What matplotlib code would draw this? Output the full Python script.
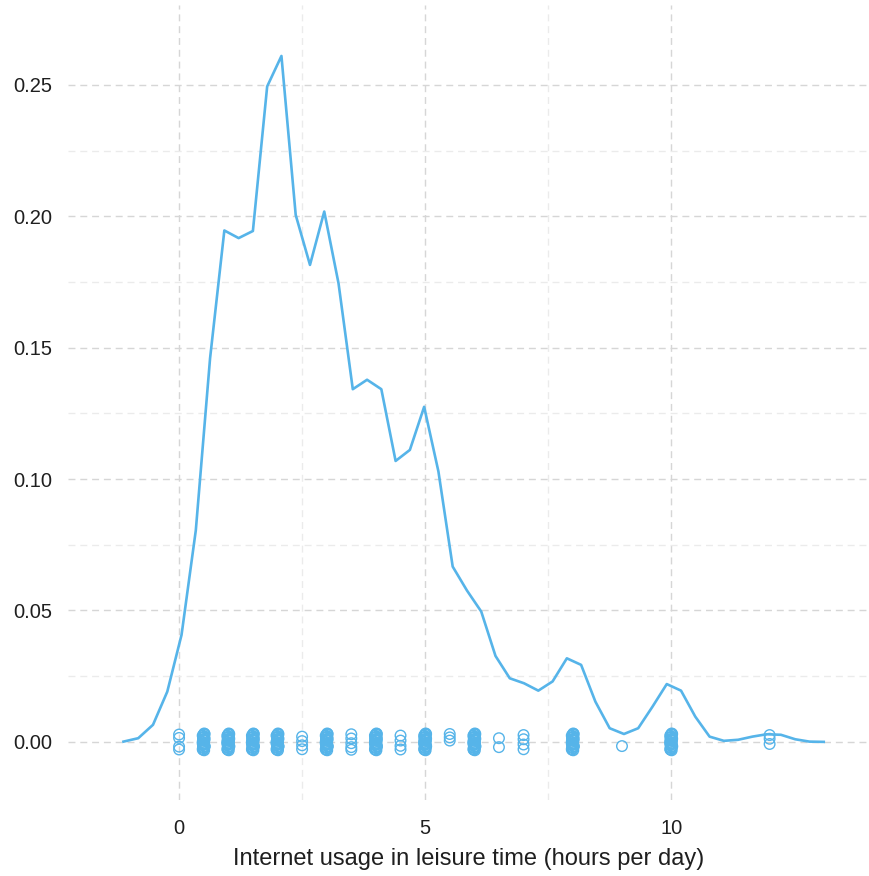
import matplotlib
matplotlib.use("Agg")
import matplotlib.pyplot as plt

# density curve
dens_x = [-1.13, -0.83, -0.53, -0.24, 0.05, 0.34, 0.63, 0.92, 1.21, 1.50,
          1.79, 2.08, 2.37, 2.66, 2.95, 3.24, 3.53, 3.82, 4.11, 4.40,
          4.69, 4.98, 5.27, 5.56, 5.85, 6.14, 6.43, 6.72, 7.01, 7.30,
          7.59, 7.88, 8.17, 8.46, 8.75, 9.04, 9.33, 9.62, 9.91, 10.20,
          10.49, 10.78, 11.07, 11.36, 11.65, 11.94, 12.23, 12.52, 12.81, 13.10]
dens_y = [0.0001, 0.0014, 0.0065, 0.0191, 0.0407, 0.0805, 0.1460, 0.1946, 0.1917, 0.1944,
          0.2494, 0.2610, 0.2005, 0.1815, 0.2018, 0.1745, 0.1342, 0.1378, 0.1342, 0.1069,
          0.1111, 0.1275, 0.1029, 0.0667, 0.0576, 0.0496, 0.0327, 0.0242, 0.0223, 0.0195,
          0.0230, 0.0318, 0.0293, 0.0153, 0.0052, 0.0030, 0.0052, 0.0134, 0.0220, 0.0195,
          0.0096, 0.0020, 0.0004, 0.0008, 0.0020, 0.0029, 0.0027, 0.0010, 0.0001, 0.0000]

# observed answers (hours) and the jitter seen in each column
hours = [0, 0.5, 1, 1.5, 2, 2.5, 3, 3.5, 4, 4.5, 5, 5.5, 6, 6.5, 7, 8, 9, 10, 12]
dense = [-0.0032, -0.0028, -0.0024, -0.0020, -0.0016, -0.0012, -0.0008, -0.0004,
         0.0, 0.0004, 0.0008, 0.0012, 0.0016, 0.0020, 0.0024, 0.0028,
         0.0032, -0.0030, -0.0018, -0.0006, 0.0006, 0.0018, 0.0030, -0.0010, 0.0010]
dense_dx = [0.01, -0.02, 0.0, -0.01, 0.02, -0.01, 0.0, 0.01, -0.02, 0.01,
            -0.01, 0.02, -0.01, 0.01, -0.02, 0.0, 0.01, -0.01, 0.02, -0.02,
            0.01, -0.01, 0.02, 0.0, -0.01]
sparse = {
    0: [0.0028, 0.0015, -0.0018, -0.0029],
    2.5: [0.0020, 0.0003, -0.0013, -0.0028],
    3.5: [0.0029, 0.0013, -0.0005, -0.0020, -0.0030],
    4.5: [0.0024, 0.0005, -0.0015, -0.0029],
    5.5: [0.0030, 0.0017, 0.0005],
    6.5: [0.0014, -0.0020],
    7: [0.0026, 0.0010, -0.0010, -0.0028],
    9: [-0.0016],
    12: [0.0026, 0.0012, -0.0008],
}

blue = "#56B4E9"
ink = "#1f1f1f"

plt.rcParams["font.family"] = ["Liberation Sans", "DejaVu Sans"]

fig = plt.figure(figsize=(8.7, 8.76), dpi=100)
ax = fig.add_axes([0.078, 0.0868, 0.922, 0.9075])

# jittered points along the baseline
for h in hours:
    if h in sparse:
        ys = sparse[h]
        xs = [h] * len(ys)
    else:
        ys = dense
        xs = [h + d for d in dense_dx]
    ax.scatter(xs, ys, s=58, facecolors="none", edgecolors=blue,
               linewidths=1.0, zorder=3)

ax.plot(dens_x, dens_y, color=blue, lw=1.9, zorder=4)

ax.set_xlim(-2.26, 14.04)
ax.set_ylim(-0.0221, 0.2804)

ax.set_xticks([0, 5, 10])
ax.set_xticks([2.5, 7.5], minor=True)
ax.set_yticks([0.0, 0.05, 0.10, 0.15, 0.20, 0.25])
ax.set_yticks([0.025, 0.075, 0.125, 0.175, 0.225], minor=True)
ax.set_yticklabels(["0.00", "0.05", "0.10", "0.15", "0.20", "0.25"])

ax.grid(which="major", color="#d6d6d6", linestyle=(0, (5, 3.5)), lw=1.0)
ax.grid(which="minor", color="#ebebeb", linestyle=(0, (5, 3.5)), lw=1.0)
ax.set_axisbelow(True)

for s in ax.spines.values():
    s.set_visible(False)

ax.tick_params(which="both", length=0)
ax.tick_params(axis="x", pad=14, labelsize=14.5, labelcolor=ink)
ax.tick_params(axis="y", pad=11, labelsize=14.5, labelcolor=ink)

ax.set_xlabel("Internet usage in leisure time (hours per day)",
              fontsize=17, color=ink, labelpad=7)

fig.savefig("out.png", dpi=100)
